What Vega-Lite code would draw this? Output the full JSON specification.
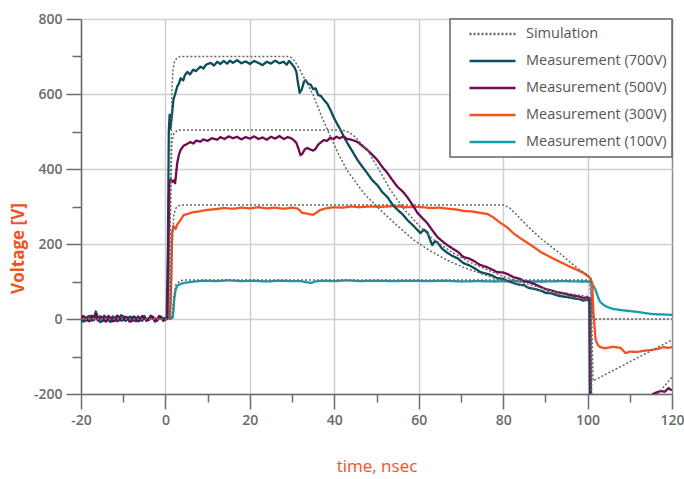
{
  "$schema": "https://vega.github.io/schema/vega-lite/v6.json",
  "width": 591,
  "height": 375,
  "autosize": {"type": "none"},
  "padding": {"left": 81, "top": 19, "right": 12, "bottom": 85},
  "background": "white",
  "config": {
    "view": {"stroke": null},
    "font": "Open Sans",
    "axis": {
      "domainColor": "#6b6b6b",
      "domainWidth": 1.5,
      "tickColor": "#6b6b6b",
      "tickWidth": 1.5,
      "gridColor": "#cfcfcf",
      "gridWidth": 1.5,
      "labelColor": "#6b6b6b",
      "labelFont": "Open Sans",
      "labelFontSize": 14,
      "labelFontWeight": 600,
      "labelFlush": false,
      "titleColor": "#f4511e",
      "titleFont": "Open Sans",
      "titleFontSize": 17
    }
  },
  "datasets": {
    "meas": [
      {"s":"100","t":-20,"v":0},{"s":"100","t":-19,"v":3},{"s":"100","t":-18,"v":-2},{"s":"100","t":-17,"v":4},{"s":"100","t":-16,"v":-1},{"s":"100","t":-15,"v":2},{"s":"100","t":-14,"v":-3},{"s":"100","t":-13,"v":3},{"s":"100","t":-12,"v":0},{"s":"100","t":-11,"v":2},{"s":"100","t":-10,"v":-2},{"s":"100","t":-9,"v":3},{"s":"100","t":-8,"v":0},{"s":"100","t":-7,"v":2},{"s":"100","t":-6,"v":-2},{"s":"100","t":-5,"v":3},{"s":"100","t":-4,"v":0},{"s":"100","t":-3,"v":2},{"s":"100","t":-2,"v":-1},{"s":"100","t":-1,"v":2},{"s":"100","t":0,"v":1},{"s":"100","t":1,"v":2},{"s":"100","t":1.7,"v":3},{"s":"100","t":1.9,"v":20},{"s":"100","t":2.1,"v":55},{"s":"100","t":2.4,"v":77},{"s":"100","t":2.8,"v":89},{"s":"100","t":3.5,"v":93},{"s":"100","t":4.3,"v":96},{"s":"100","t":5.5,"v":98},{"s":"100","t":7,"v":100},{"s":"100","t":9,"v":102},{"s":"100","t":12,"v":101},{"s":"100","t":15,"v":103},{"s":"100","t":18,"v":101},{"s":"100","t":21,"v":102},{"s":"100","t":24,"v":100},{"s":"100","t":27,"v":102},{"s":"100","t":30,"v":101},{"s":"100","t":32,"v":101},{"s":"100","t":33.5,"v":98},{"s":"100","t":34.5,"v":96},{"s":"100","t":35.5,"v":100},{"s":"100","t":37,"v":102},{"s":"100","t":40,"v":101},{"s":"100","t":43,"v":103},{"s":"100","t":46,"v":101},{"s":"100","t":50,"v":102},{"s":"100","t":54,"v":101},{"s":"100","t":58,"v":102},{"s":"100","t":62,"v":101},{"s":"100","t":66,"v":102},{"s":"100","t":70,"v":100},{"s":"100","t":74,"v":101},{"s":"100","t":78,"v":100},{"s":"100","t":82,"v":101},{"s":"100","t":86,"v":100},{"s":"100","t":90,"v":100},{"s":"100","t":94,"v":101},{"s":"100","t":98,"v":100},{"s":"100","t":100,"v":100},{"s":"100","t":100.7,"v":99},{"s":"100","t":101.3,"v":90},{"s":"100","t":101.9,"v":77},{"s":"100","t":102.5,"v":58},{"s":"100","t":103,"v":45},{"s":"100","t":104,"v":36},{"s":"100","t":104.7,"v":32},{"s":"100","t":106,"v":27},{"s":"100","t":107.8,"v":24},{"s":"100","t":110,"v":21},{"s":"100","t":111.8,"v":19},{"s":"100","t":114,"v":15},{"s":"100","t":115.6,"v":13},{"s":"100","t":118,"v":12},{"s":"100","t":120,"v":11},

      {"s":"300","t":-20,"v":2},{"s":"300","t":-19,"v":-2},{"s":"300","t":-18,"v":4},{"s":"300","t":-17,"v":-3},{"s":"300","t":-16,"v":5},{"s":"300","t":-15,"v":-1},{"s":"300","t":-14,"v":3},{"s":"300","t":-13,"v":-4},{"s":"300","t":-12,"v":2},{"s":"300","t":-11,"v":-2},{"s":"300","t":-10,"v":4},{"s":"300","t":-9,"v":0},{"s":"300","t":-8,"v":3},{"s":"300","t":-7,"v":-3},{"s":"300","t":-6,"v":4},{"s":"300","t":-5,"v":1},{"s":"300","t":-4,"v":-2},{"s":"300","t":-3,"v":5},{"s":"300","t":-2,"v":0},{"s":"300","t":-1,"v":3},{"s":"300","t":0,"v":2},{"s":"300","t":1,"v":3},{"s":"300","t":1.3,"v":60},{"s":"300","t":1.6,"v":232},{"s":"300","t":1.9,"v":248},{"s":"300","t":2.4,"v":240},{"s":"300","t":2.8,"v":252},{"s":"300","t":3.6,"v":264},{"s":"300","t":4.3,"v":277},{"s":"300","t":5.2,"v":280},{"s":"300","t":6.6,"v":285},{"s":"300","t":8,"v":287},{"s":"300","t":9.9,"v":291},{"s":"300","t":12,"v":293},{"s":"300","t":13.8,"v":296},{"s":"300","t":16,"v":294},{"s":"300","t":18,"v":297},{"s":"300","t":20,"v":295},{"s":"300","t":22,"v":298},{"s":"300","t":24,"v":295},{"s":"300","t":26,"v":297},{"s":"300","t":28,"v":294},{"s":"300","t":30,"v":297},{"s":"300","t":31.2,"v":295},{"s":"300","t":31.8,"v":290},{"s":"300","t":32.4,"v":283},{"s":"300","t":33.6,"v":281},{"s":"300","t":34.4,"v":279},{"s":"300","t":35,"v":278},{"s":"300","t":35.8,"v":284},{"s":"300","t":36.7,"v":291},{"s":"300","t":38,"v":295},{"s":"300","t":39.8,"v":298},{"s":"300","t":42,"v":297},{"s":"300","t":44,"v":300},{"s":"300","t":46,"v":298},{"s":"300","t":48,"v":300},{"s":"300","t":51,"v":299},{"s":"300","t":54,"v":301},{"s":"300","t":57,"v":298},{"s":"300","t":60,"v":299},{"s":"300","t":62.8,"v":296},{"s":"300","t":65,"v":297},{"s":"300","t":67,"v":294},{"s":"300","t":69,"v":292},{"s":"300","t":70.6,"v":288},{"s":"300","t":72.5,"v":287},{"s":"300","t":74.6,"v":283},{"s":"300","t":76.3,"v":280},{"s":"300","t":77.8,"v":270},{"s":"300","t":79.4,"v":256},{"s":"300","t":81,"v":244},{"s":"300","t":82.4,"v":229},{"s":"300","t":84,"v":216},{"s":"300","t":85.8,"v":203},{"s":"300","t":87.5,"v":190},{"s":"300","t":89,"v":178},{"s":"300","t":91.2,"v":165},{"s":"300","t":93.5,"v":152},{"s":"300","t":95.9,"v":139},{"s":"300","t":97.5,"v":131},{"s":"300","t":99,"v":123},{"s":"300","t":100,"v":115},{"s":"300","t":100.7,"v":108},{"s":"300","t":101.1,"v":95},{"s":"300","t":101.4,"v":16},{"s":"300","t":101.9,"v":-56},{"s":"300","t":102.5,"v":-70},{"s":"300","t":103,"v":-75},{"s":"300","t":104,"v":-78},{"s":"300","t":104.7,"v":-77},{"s":"300","t":106,"v":-74},{"s":"300","t":107.8,"v":-77},{"s":"300","t":108.5,"v":-85},{"s":"300","t":109,"v":-91},{"s":"300","t":110,"v":-87},{"s":"300","t":111.8,"v":-88},{"s":"300","t":113,"v":-85},{"s":"300","t":114.9,"v":-83},{"s":"300","t":116.5,"v":-80},{"s":"300","t":118,"v":-75},{"s":"300","t":119,"v":-77},{"s":"300","t":120,"v":-75},

      {"s":"700","t":-20,"v":2},{"s":"700","t":-19.5,"v":-7},{"s":"700","t":-19,"v":-5},{"s":"700","t":-18.5,"v":6},{"s":"700","t":-18,"v":8},{"s":"700","t":-17.5,"v":-4},{"s":"700","t":-17,"v":-3},{"s":"700","t":-16.5,"v":20},{"s":"700","t":-16,"v":5},{"s":"700","t":-15.5,"v":-8},{"s":"700","t":-15,"v":-6},{"s":"700","t":-14.5,"v":9},{"s":"700","t":-14,"v":4},{"s":"700","t":-13.5,"v":-3},{"s":"700","t":-13,"v":-8},{"s":"700","t":-12.5,"v":7},{"s":"700","t":-12,"v":3},{"s":"700","t":-11.5,"v":-6},{"s":"700","t":-11,"v":-4},{"s":"700","t":-10.5,"v":10},{"s":"700","t":-10,"v":7},{"s":"700","t":-9.5,"v":-5},{"s":"700","t":-9,"v":-2},{"s":"700","t":-8.5,"v":6},{"s":"700","t":-8,"v":5},{"s":"700","t":-7.5,"v":-4},{"s":"700","t":-7,"v":-6},{"s":"700","t":-6.5,"v":7},{"s":"700","t":-6,"v":2},{"s":"700","t":-5.5,"v":-5},{"s":"700","t":-5,"v":8},{"s":"700","t":-4.5,"v":-2},{"s":"700","t":-4,"v":-3},{"s":"700","t":-3.5,"v":9},{"s":"700","t":-3,"v":4},{"s":"700","t":-2.5,"v":-6},{"s":"700","t":-2,"v":-5},{"s":"700","t":-1.5,"v":7},{"s":"700","t":-1,"v":6},{"s":"700","t":-0.5,"v":-2},{"s":"700","t":0,"v":3},{"s":"700","t":0.3,"v":5},{"s":"700","t":0.6,"v":200},{"s":"700","t":0.8,"v":500},{"s":"700","t":1,"v":545},{"s":"700","t":1.2,"v":508},{"s":"700","t":1.5,"v":540},{"s":"700","t":1.9,"v":585},{"s":"700","t":2.3,"v":600},{"s":"700","t":2.8,"v":620},{"s":"700","t":3.2,"v":628},{"s":"700","t":3.6,"v":642},{"s":"700","t":4.2,"v":636},{"s":"700","t":4.6,"v":650},{"s":"700","t":5.2,"v":659},{"s":"700","t":5.8,"v":652},{"s":"700","t":6.6,"v":665},{"s":"700","t":7.2,"v":661},{"s":"700","t":8.3,"v":673},{"s":"700","t":9,"v":668},{"s":"700","t":9.6,"v":678},{"s":"700","t":10.7,"v":683},{"s":"700","t":11.5,"v":676},{"s":"700","t":12.3,"v":686},{"s":"700","t":13,"v":680},{"s":"700","t":13.8,"v":688},{"s":"700","t":14.6,"v":681},{"s":"700","t":15.3,"v":689},{"s":"700","t":16,"v":683},{"s":"700","t":17,"v":690},{"s":"700","t":18,"v":682},{"s":"700","t":19,"v":687},{"s":"700","t":20,"v":680},{"s":"700","t":21,"v":688},{"s":"700","t":22,"v":683},{"s":"700","t":23,"v":677},{"s":"700","t":24,"v":686},{"s":"700","t":25,"v":681},{"s":"700","t":26,"v":689},{"s":"700","t":27,"v":682},{"s":"700","t":28,"v":686},{"s":"700","t":28.7,"v":678},{"s":"700","t":29.3,"v":688},{"s":"700","t":30,"v":679},{"s":"700","t":30.5,"v":672},{"s":"700","t":31,"v":660},{"s":"700","t":31.4,"v":630},{"s":"700","t":31.8,"v":603},{"s":"700","t":32.3,"v":612},{"s":"700","t":32.8,"v":632},{"s":"700","t":33.2,"v":637},{"s":"700","t":33.8,"v":627},{"s":"700","t":34.4,"v":625},{"s":"700","t":35,"v":613},{"s":"700","t":35.6,"v":615},{"s":"700","t":36.2,"v":597},{"s":"700","t":36.8,"v":595},{"s":"700","t":37.5,"v":585},{"s":"700","t":38.4,"v":573},{"s":"700","t":39.2,"v":555},{"s":"700","t":39.8,"v":539},{"s":"700","t":40.6,"v":522},{"s":"700","t":41.5,"v":504},{"s":"700","t":42.3,"v":485},{"s":"700","t":43.1,"v":469},{"s":"700","t":44.3,"v":447},{"s":"700","t":45.5,"v":424},{"s":"700","t":46.6,"v":407},{"s":"700","t":47.8,"v":389},{"s":"700","t":49,"v":370},{"s":"700","t":50.2,"v":357},{"s":"700","t":51.4,"v":338},{"s":"700","t":52.6,"v":325},{"s":"700","t":53.8,"v":305},{"s":"700","t":55,"v":291},{"s":"700","t":56.2,"v":279},{"s":"700","t":57.3,"v":264},{"s":"700","t":58.8,"v":248},{"s":"700","t":60.4,"v":229},{"s":"700","t":61.2,"v":238},{"s":"700","t":62,"v":232},{"s":"700","t":62.6,"v":214},{"s":"700","t":63.2,"v":197},{"s":"700","t":63.8,"v":207},{"s":"700","t":64.4,"v":205},{"s":"700","t":65.5,"v":188},{"s":"700","t":66.8,"v":176},{"s":"700","t":68,"v":168},{"s":"700","t":69.2,"v":162},{"s":"700","t":70.6,"v":149},{"s":"700","t":72,"v":143},{"s":"700","t":73,"v":137},{"s":"700","t":74.6,"v":125},{"s":"700","t":76,"v":121},{"s":"700","t":77,"v":118},{"s":"700","t":78.6,"v":109},{"s":"700","t":80,"v":107},{"s":"700","t":81,"v":102},{"s":"700","t":82.4,"v":96},{"s":"700","t":84,"v":91},{"s":"700","t":85,"v":90},{"s":"700","t":86,"v":83},{"s":"700","t":87.5,"v":80},{"s":"700","t":88.8,"v":76},{"s":"700","t":90,"v":70},{"s":"700","t":91.5,"v":68},{"s":"700","t":92.8,"v":63},{"s":"700","t":94,"v":60},{"s":"700","t":95.5,"v":58},{"s":"700","t":96.7,"v":55},{"s":"700","t":98,"v":53},{"s":"700","t":99,"v":49},{"s":"700","t":100,"v":52},{"s":"700","t":100.4,"v":45},{"s":"700","t":100.6,"v":-250},{"s":"700","t":101,"v":-450},{"s":"700","t":120,"v":-350},

      {"s":"500","t":-20,"v":-3},{"s":"500","t":-19.5,"v":8},{"s":"500","t":-19,"v":4},{"s":"500","t":-18.5,"v":-4},{"s":"500","t":-18,"v":-6},{"s":"500","t":-17.5,"v":9},{"s":"500","t":-17,"v":6},{"s":"500","t":-16.5,"v":12},{"s":"500","t":-16,"v":-4},{"s":"500","t":-15.5,"v":7},{"s":"500","t":-15,"v":5},{"s":"500","t":-14.5,"v":-5},{"s":"500","t":-14,"v":-7},{"s":"500","t":-13.5,"v":8},{"s":"500","t":-13,"v":3},{"s":"500","t":-12.5,"v":-6},{"s":"500","t":-12,"v":-5},{"s":"500","t":-11.5,"v":9},{"s":"500","t":-11,"v":6},{"s":"500","t":-10.5,"v":-4},{"s":"500","t":-10,"v":-3},{"s":"500","t":-9.5,"v":6},{"s":"500","t":-9,"v":4},{"s":"500","t":-8.5,"v":-7},{"s":"500","t":-8,"v":-6},{"s":"500","t":-7.5,"v":7},{"s":"500","t":-7,"v":3},{"s":"500","t":-6.5,"v":-6},{"s":"500","t":-6,"v":-4},{"s":"500","t":-5.5,"v":8},{"s":"500","t":-5,"v":5},{"s":"500","t":-4.5,"v":-5},{"s":"500","t":-4,"v":-2},{"s":"500","t":-3.5,"v":7},{"s":"500","t":-3,"v":6},{"s":"500","t":-2.5,"v":-6},{"s":"500","t":-2,"v":-4},{"s":"500","t":-1.5,"v":8},{"s":"500","t":-1,"v":3},{"s":"500","t":-0.5,"v":-5},{"s":"500","t":0,"v":-2},{"s":"500","t":0.5,"v":2},{"s":"500","t":0.7,"v":150},{"s":"500","t":0.9,"v":360},{"s":"500","t":1.2,"v":372},{"s":"500","t":1.6,"v":365},{"s":"500","t":2,"v":370},{"s":"500","t":2.3,"v":362},{"s":"500","t":2.6,"v":395},{"s":"500","t":2.8,"v":416},{"s":"500","t":3.2,"v":438},{"s":"500","t":3.6,"v":451},{"s":"500","t":4.3,"v":462},{"s":"500","t":5,"v":466},{"s":"500","t":5.9,"v":472},{"s":"500","t":6.6,"v":468},{"s":"500","t":7.3,"v":476},{"s":"500","t":8.3,"v":473},{"s":"500","t":9,"v":479},{"s":"500","t":10,"v":475},{"s":"500","t":11,"v":482},{"s":"500","t":12.3,"v":478},{"s":"500","t":13,"v":485},{"s":"500","t":14,"v":480},{"s":"500","t":15,"v":487},{"s":"500","t":16,"v":482},{"s":"500","t":17,"v":486},{"s":"500","t":18,"v":479},{"s":"500","t":19,"v":485},{"s":"500","t":20,"v":481},{"s":"500","t":21,"v":487},{"s":"500","t":22,"v":480},{"s":"500","t":23,"v":484},{"s":"500","t":24,"v":478},{"s":"500","t":25,"v":486},{"s":"500","t":26,"v":481},{"s":"500","t":27,"v":488},{"s":"500","t":28,"v":480},{"s":"500","t":29,"v":485},{"s":"500","t":29.6,"v":483},{"s":"500","t":30.3,"v":478},{"s":"500","t":31,"v":470},{"s":"500","t":31.5,"v":455},{"s":"500","t":32,"v":437},{"s":"500","t":32.4,"v":440},{"s":"500","t":33,"v":452},{"s":"500","t":33.6,"v":456},{"s":"500","t":34.3,"v":452},{"s":"500","t":35,"v":449},{"s":"500","t":35.5,"v":453},{"s":"500","t":36.2,"v":465},{"s":"500","t":36.7,"v":470},{"s":"500","t":37.5,"v":477},{"s":"500","t":38.3,"v":475},{"s":"500","t":39,"v":483},{"s":"500","t":39.8,"v":480},{"s":"500","t":40.5,"v":486},{"s":"500","t":41.3,"v":482},{"s":"500","t":42.2,"v":487},{"s":"500","t":43,"v":480},{"s":"500","t":43.8,"v":479},{"s":"500","t":44.6,"v":476},{"s":"500","t":45.5,"v":472},{"s":"500","t":46.6,"v":462},{"s":"500","t":47.8,"v":451},{"s":"500","t":49,"v":438},{"s":"500","t":50.2,"v":424},{"s":"500","t":51.4,"v":405},{"s":"500","t":52.6,"v":389},{"s":"500","t":53.8,"v":370},{"s":"500","t":55,"v":352},{"s":"500","t":56.2,"v":340},{"s":"500","t":57.3,"v":325},{"s":"500","t":58.5,"v":305},{"s":"500","t":59.7,"v":283},{"s":"500","t":60.8,"v":270},{"s":"500","t":62,"v":256},{"s":"500","t":63.2,"v":237},{"s":"500","t":64.4,"v":219},{"s":"500","t":65.5,"v":208},{"s":"500","t":66.8,"v":197},{"s":"500","t":68,"v":188},{"s":"500","t":69.2,"v":180},{"s":"500","t":70.6,"v":165},{"s":"500","t":72,"v":161},{"s":"500","t":73,"v":155},{"s":"500","t":74.6,"v":144},{"s":"500","t":76,"v":139},{"s":"500","t":77,"v":134},{"s":"500","t":78.6,"v":125},{"s":"500","t":80,"v":124},{"s":"500","t":81,"v":120},{"s":"500","t":82.4,"v":112},{"s":"500","t":84,"v":107},{"s":"500","t":85,"v":101},{"s":"500","t":86,"v":99},{"s":"500","t":87.5,"v":93},{"s":"500","t":88.8,"v":86},{"s":"500","t":90,"v":80},{"s":"500","t":91.5,"v":76},{"s":"500","t":92.8,"v":71},{"s":"500","t":94,"v":69},{"s":"500","t":95.5,"v":65},{"s":"500","t":96.7,"v":62},{"s":"500","t":98,"v":60},{"s":"500","t":99,"v":56},{"s":"500","t":100,"v":58},{"s":"500","t":100.6,"v":52},{"s":"500","t":100.8,"v":-250},{"s":"500","t":101.2,"v":-450},{"s":"500","t":108,"v":-300},{"s":"500","t":115.5,"v":-200},{"s":"500","t":116.5,"v":-195},{"s":"500","t":117.5,"v":-192},{"s":"500","t":118.3,"v":-194},{"s":"500","t":119.2,"v":-184},{"s":"500","t":119.6,"v":-188},{"s":"500","t":120,"v":-190}
    ],
    "sim": [
      {"s":"sim","g":"7","t":-20,"v":0},{"s":"sim","g":"7","t":0.9,"v":0},{"s":"sim","g":"7","t":1.2,"v":300},{"s":"sim","g":"7","t":1.5,"v":600},{"s":"sim","g":"7","t":1.8,"v":665},{"s":"sim","g":"7","t":2.2,"v":688},{"s":"sim","g":"7","t":2.8,"v":697},{"s":"sim","g":"7","t":3.5,"v":700},{"s":"sim","g":"7","t":29.5,"v":700},{"s":"sim","g":"7","t":30.4,"v":691},{"s":"sim","g":"7","t":31.5,"v":672},{"s":"sim","g":"7","t":33,"v":640},{"s":"sim","g":"7","t":35.1,"v":595},{"s":"sim","g":"7","t":37,"v":540},{"s":"sim","g":"7","t":39.1,"v":486},{"s":"sim","g":"7","t":41,"v":440},{"s":"sim","g":"7","t":43,"v":397},{"s":"sim","g":"7","t":47,"v":335},{"s":"sim","g":"7","t":50.9,"v":291},{"s":"sim","g":"7","t":55,"v":248},{"s":"sim","g":"7","t":58.8,"v":211},{"s":"sim","g":"7","t":62.5,"v":183},{"s":"sim","g":"7","t":66.7,"v":157},{"s":"sim","g":"7","t":70.5,"v":138},{"s":"sim","g":"7","t":74.6,"v":122},{"s":"sim","g":"7","t":78.5,"v":107},{"s":"sim","g":"7","t":82.5,"v":95},{"s":"sim","g":"7","t":86,"v":85},{"s":"sim","g":"7","t":90,"v":74},{"s":"sim","g":"7","t":94,"v":64},{"s":"sim","g":"7","t":97,"v":57},{"s":"sim","g":"7","t":100,"v":50},{"s":"sim","g":"7","t":100.6,"v":45},{"s":"sim","g":"7","t":101.1,"v":-700},{"s":"sim","g":"7","t":120,"v":-400},
      {"s":"sim","g":"5","t":-20,"v":0},{"s":"sim","g":"5","t":0.8,"v":0},{"s":"sim","g":"5","t":1.2,"v":300},{"s":"sim","g":"5","t":1.5,"v":470},{"s":"sim","g":"5","t":2,"v":495},{"s":"sim","g":"5","t":3,"v":504},{"s":"sim","g":"5","t":42,"v":504},{"s":"sim","g":"5","t":43.5,"v":498},{"s":"sim","g":"5","t":45,"v":485},{"s":"sim","g":"5","t":47.8,"v":451},{"s":"sim","g":"5","t":50.5,"v":400},{"s":"sim","g":"5","t":53.3,"v":344},{"s":"sim","g":"5","t":56.5,"v":293},{"s":"sim","g":"5","t":60.4,"v":245},{"s":"sim","g":"5","t":64,"v":207},{"s":"sim","g":"5","t":68.2,"v":176},{"s":"sim","g":"5","t":72,"v":152},{"s":"sim","g":"5","t":76.3,"v":131},{"s":"sim","g":"5","t":80,"v":114},{"s":"sim","g":"5","t":84,"v":99},{"s":"sim","g":"5","t":88,"v":86},{"s":"sim","g":"5","t":92,"v":75},{"s":"sim","g":"5","t":96,"v":67},{"s":"sim","g":"5","t":100,"v":60},{"s":"sim","g":"5","t":100.8,"v":56},{"s":"sim","g":"5","t":101.2,"v":-500},{"s":"sim","g":"5","t":116.6,"v":-200},{"s":"sim","g":"5","t":120,"v":-155},
      {"s":"sim","g":"3","t":-20,"v":0},{"s":"sim","g":"3","t":1.2,"v":0},{"s":"sim","g":"3","t":1.6,"v":200},{"s":"sim","g":"3","t":2,"v":280},{"s":"sim","g":"3","t":2.6,"v":298},{"s":"sim","g":"3","t":3.5,"v":304},{"s":"sim","g":"3","t":80,"v":304},{"s":"sim","g":"3","t":81.5,"v":297},{"s":"sim","g":"3","t":83,"v":280},{"s":"sim","g":"3","t":85,"v":257},{"s":"sim","g":"3","t":86.5,"v":240},{"s":"sim","g":"3","t":89,"v":214},{"s":"sim","g":"3","t":91.5,"v":192},{"s":"sim","g":"3","t":94,"v":170},{"s":"sim","g":"3","t":96,"v":150},{"s":"sim","g":"3","t":98,"v":132},{"s":"sim","g":"3","t":100,"v":118},{"s":"sim","g":"3","t":100.8,"v":108},{"s":"sim","g":"3","t":101.3,"v":-165},{"s":"sim","g":"3","t":120,"v":-56},
      {"s":"sim","g":"1","t":-20,"v":0},{"s":"sim","g":"1","t":1.5,"v":0},{"s":"sim","g":"1","t":2,"v":60},{"s":"sim","g":"1","t":2.5,"v":92},{"s":"sim","g":"1","t":3.5,"v":102},{"s":"sim","g":"1","t":4.5,"v":104},{"s":"sim","g":"1","t":100,"v":104},{"s":"sim","g":"1","t":100.5,"v":100},{"s":"sim","g":"1","t":101.2,"v":5},{"s":"sim","g":"1","t":101.8,"v":0},{"s":"sim","g":"1","t":120,"v":0}
    ]
  },
  "encoding": {
    "x": {
      "field": "t",
      "type": "quantitative",
      "scale": {"domain": [-20, 120], "nice": false, "zero": false},
      "axis": {
        "title": "time, nsec",
        "titleFontWeight": 500,
        "titleX": 295.5,
        "titleY": 72,
        "titleAlign": "center",
        "titleBaseline": "middle",
        "values": [-20, -10, 0, 10, 20, 30, 40, 50, 60, 70, 80, 90, 100, 110, 120],
        "labelExpr": "datum.value % 20 === 0 ? '' + datum.value : ''",
        "tickSize": {"condition": {"test": "datum.value % 20 === 0", "value": 15}, "value": 8},
        "gridOpacity": {"condition": {"test": "datum.value % 20 === 0", "value": 1}, "value": 0},
        "gridColor": {"condition": {"test": "datum.value === 120", "value": "#8a8a8a"}, "value": "#cfcfcf"},
        "labelPadding": 4
      }
    },
    "y": {
      "field": "v",
      "type": "quantitative",
      "scale": {"domain": [-200, 800], "nice": false},
      "axis": {
        "title": "Voltage [V]",
        "titleFontWeight": 700,
        "titleX": -63,
        "titleY": 229,
        "titleAngle": -90,
        "titleAlign": "center",
        "titleBaseline": "middle",
        "values": [-200, -100, 0, 100, 200, 300, 400, 500, 600, 700, 800],
        "labelExpr": "datum.value % 200 === 0 ? '' + datum.value : ''",
        "tickSize": {"condition": {"test": "datum.value % 200 === 0", "value": 15}, "value": 9},
        "gridOpacity": {"condition": {"test": "datum.value % 200 === 0", "value": 1}, "value": 0},
        "labelPadding": 4
      }
    },
    "color": {
      "field": "s",
      "type": "nominal",
      "scale": {
        "domain": ["sim", "700", "500", "300", "100"],
        "range": ["#666666", "#0b4d5c", "#6e0b52", "#f4511e", "#139ea8"]
      },
      "legend": {
        "title": null,
        "orient": "top-right",
        "offset": 0,
        "fillColor": "white",
        "strokeColor": "#666666",
        "padding": 5,
        "clipHeight": 20,
        "rowPadding": 7,
        "symbolType": "stroke",
        "symbolSize": 2116,
        "symbolStrokeWidth": 2.5,
        "symbolOffset": 13,
        "labelOffset": 9,
        "labelFont": "Open Sans",
        "labelFontSize": 14.5,
        "labelFontWeight": 500,
        "labelColor": "#555555",
        "labelExpr": "datum.label == 'sim' ? 'Simulation' : 'Measurement (' + datum.label + 'V)'",
        "encode": {"legend": {"update": {"strokeWidth": {"value": 1.5}}}}
      }
    },
    "strokeDash": {
      "field": "s",
      "type": "nominal",
      "scale": {
        "domain": ["sim", "700", "500", "300", "100"],
        "range": [[2, 2], [1, 0], [1, 0], [1, 0], [1, 0]]
      },
      "legend": {
        "title": null,
        "orient": "top-right",
        "offset": 0,
        "fillColor": "white",
        "strokeColor": "#666666",
        "padding": 5,
        "clipHeight": 20,
        "rowPadding": 7,
        "symbolType": "stroke",
        "symbolSize": 2116,
        "symbolStrokeWidth": 2.5,
        "symbolOffset": 13,
        "labelOffset": 9,
        "labelFont": "Open Sans",
        "labelFontSize": 14.5,
        "labelFontWeight": 500,
        "labelColor": "#555555",
        "labelExpr": "datum.label == 'sim' ? 'Simulation' : 'Measurement (' + datum.label + 'V)'",
        "encode": {"legend": {"update": {"strokeWidth": {"value": 1.5}}}}
      }
    }
  },
  "layer": [
    {
      "data": {"name": "meas"},
      "mark": {"type": "line", "strokeWidth": 2.3, "clip": true, "strokeJoin": "round"}
    },
    {
      "data": {"name": "sim"},
      "mark": {"type": "line", "strokeWidth": 1.5, "clip": true},
      "encoding": {"detail": {"field": "g"}}
    }
  ]
}
